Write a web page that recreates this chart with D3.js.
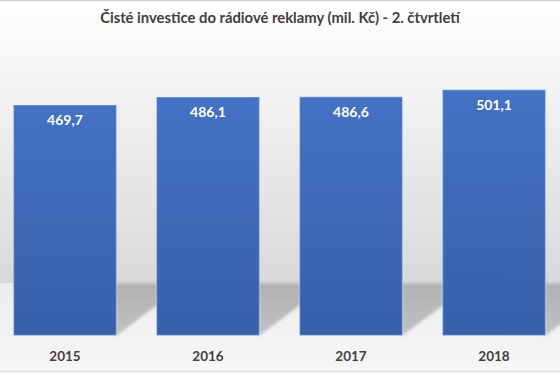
<!DOCTYPE html>
<html>
<head>
<meta charset="utf-8">
<script src="https://cdn.jsdelivr.net/npm/d3@7"></script>
<style>
  html, body { margin: 0; padding: 0; background: #fff; }
  svg { display: block; }
</style>
</head>
<body>
<svg id="chart" width="560" height="373"></svg>
<script>
const title = "Čisté investice do rádiové reklamy (mil. Kč) - 2. čtvrtletí";
const years = ["2015", "2016", "2017", "2018"];
const values = [469.7, 486.1, 486.6, 501.1];
const valueLabels = ["469,7", "486,1", "486,6", "501,1"];

const W = 560, H = 373;
const baseY = 335, floorTop = 283;
const svg = d3.select("#chart");
const defs = svg.append("defs");

const wallGrad = defs.append("linearGradient").attr("id", "wall").attr("x1", 0).attr("y1", 0).attr("x2", 0).attr("y2", 1);
wallGrad.append("stop").attr("offset", "0%").attr("stop-color", "#ffffff");
wallGrad.append("stop").attr("offset", "100%").attr("stop-color", "#d9d9d9");

const floorGrad = defs.append("linearGradient").attr("id", "floor").attr("x1", 0).attr("y1", 0).attr("x2", 0).attr("y2", 1);
floorGrad.append("stop").attr("offset", "0%").attr("stop-color", "#ececec");
floorGrad.append("stop").attr("offset", "100%").attr("stop-color", "#f7f7f7");

const barGrad = defs.append("linearGradient").attr("id", "bar").attr("x1", 0).attr("y1", 0).attr("x2", 0).attr("y2", 1);
barGrad.append("stop").attr("offset", "0%").attr("stop-color", "#4472c4");
barGrad.append("stop").attr("offset", "100%").attr("stop-color", "#3660aa");

const shGrad = defs.append("linearGradient").attr("id", "shadow").attr("x1", 0).attr("y1", 0).attr("x2", 0).attr("y2", 1);
shGrad.append("stop").attr("offset", "0%").attr("stop-color", "#b0b0b0");
shGrad.append("stop").attr("offset", "100%").attr("stop-color", "#c2c2c2");

defs.append("filter").attr("id", "blur").attr("x", "-20%").attr("y", "-20%").attr("width", "140%").attr("height", "140%")
  .append("feGaussianBlur").attr("stdDeviation", 1.5);

// background
svg.append("rect").attr("x", 0).attr("y", 0).attr("width", W).attr("height", floorTop).attr("fill", "url(#wall)");
svg.append("rect").attr("x", 0).attr("y", floorTop).attr("width", W).attr("height", H - floorTop).attr("fill", "url(#floor)");
svg.append("line").attr("x1", 0).attr("x2", W).attr("y1", 0.5).attr("y2", 0.5).attr("stroke", "#d0d0d0");
svg.append("line").attr("x1", 0).attr("x2", W).attr("y1", 371.5).attr("y2", 371.5).attr("stroke", "#d9d9d9");

const x = d3.scaleBand().domain(years).range([14, 545]).paddingInner(0.287).paddingOuter(0);
const y = d3.scaleLinear().domain([0, 600]).range([baseY, baseY - 600 * 0.4886]);
const gap = x.step() - x.bandwidth();

// shadows on the floor
svg.append("g").attr("filter", "url(#blur)").selectAll("path").data(years).join("path")
  .attr("d", d => {
    const x0 = x(d) + x.bandwidth(), x1 = x0 + gap;
    return `M${x0},${floorTop} L${x1},${floorTop} L${x1},${baseY - 30} L${x0},${baseY + 1} Z`;
  })
  .attr("fill", "url(#shadow)");

// bars
svg.append("g").selectAll("rect").data(years).join("rect")
  .attr("x", d => x(d))
  .attr("y", (d, i) => y(values[i]))
  .attr("width", x.bandwidth())
  .attr("height", (d, i) => y(0) - y(values[i]))
  .attr("fill", "url(#bar)")
  .attr("stroke", "#5a84cf")
  .attr("stroke-width", 0.8);

// value labels
svg.append("g").selectAll("text").data(years).join("text")
  .attr("x", d => x(d) + x.bandwidth() / 2)
  .attr("y", (d, i) => y(values[i]) + 16)
  .attr("text-anchor", "middle")
  .attr("dominant-baseline", "middle")
  .attr("fill", "#ffffff")
  .attr("font-family", "Lato, 'Open Sans', sans-serif")
  .attr("font-weight", "bold")
  .attr("font-size", "14px")
  .text((d, i) => valueLabels[i]);

// x axis
const xAxis = svg.append("g").attr("transform", `translate(0, ${baseY})`)
  .call(d3.axisBottom(x).tickSize(0).tickPadding(16));
xAxis.select(".domain").remove();
xAxis.selectAll("text")
  .attr("fill", "#404040")
  .attr("font-family", "Lato, 'Open Sans', sans-serif")
  .attr("font-weight", "bold")
  .attr("font-size", "13.5px");

// title
svg.append("text")
  .attr("x", W / 2).attr("y", 19)
  .attr("text-anchor", "middle")
  .attr("dominant-baseline", "middle")
  .attr("fill", "#404040")
  .attr("font-family", "Lato, 'Open Sans', sans-serif")
  .attr("font-weight", "bold")
  .attr("font-size", "14.8px")
  .text(title);
</script>
</body>
</html>
